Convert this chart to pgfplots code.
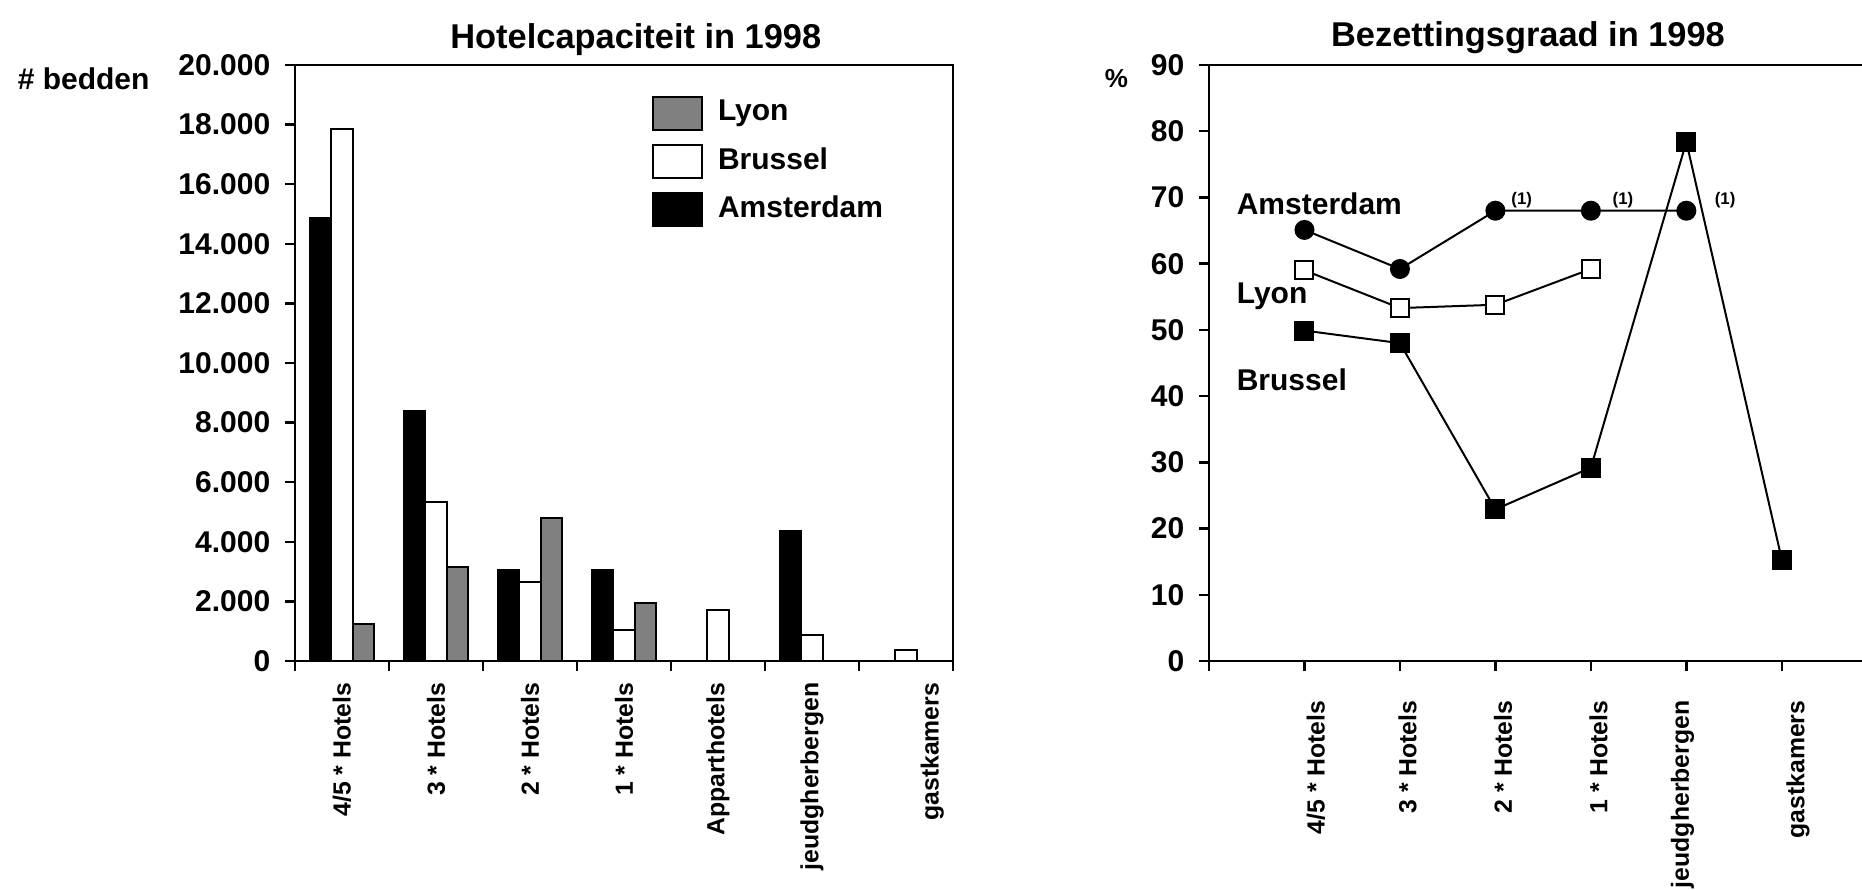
\documentclass[border=0pt]{standalone}
\usepackage{pgfplots}
\pgfplotsset{compat=1.18}
\usepackage{fontspec}
\setmainfont{Liberation Sans}
\definecolor{lyongray}{RGB}{128,128,128}
\newcommand{\tkfont}{\bfseries\fontsize{7.5}{9}\selectfont}
\newcommand{\catfont}{\bfseries\fontsize{6.2}{7.5}\selectfont}
\newcommand{\ttlfont}{\bfseries\fontsize{8.6}{10}\selectfont}
\begin{document}
\begin{tikzpicture}
\useasboundingbox (0,0) rectangle (465.5pt,222.25pt);
\pgfplotsset{
  common/.style={
    scale only axis, height=149pt,
    axis line style={-, line width=0.6pt},
    tick style={line width=0.6pt, black},
    tick align=outside,
    major tick length=2.5pt,
    minor tick length=2.5pt,
    ytick pos=left, xtick pos=left,
    major x tick style={draw=none},
    ticklabel style={font=\tkfont},
    /pgf/number format/assume math mode=true,
    yticklabel style={inner sep=0pt},
    yticklabel shift=3.5pt,
    xticklabel style={rotate=90, anchor=east, inner sep=0pt, font=\catfont},
    every axis title shift=0pt,
    title style={font=\ttlfont, anchor=base},
  }
}
% ---------------- left: bar chart ----------------
\begin{axis}[common,
  at={(73.75pt,57pt)}, anchor=south west, width=164.5pt,
  xmin=-0.5, xmax=6.5, ymin=0, ymax=20000,
  ytick={0,2000,...,20000}, scaled y ticks=false,
  /pgf/number format/1000 sep={.},
  xtick={0,1,2,3,4,5,6.28},
  xticklabels={4/5 * Hotels, 3 * Hotels, 2 * Hotels, 1 * Hotels, Apparthotels, jeudgherbergen, gastkamers},
  xticklabel shift=2.75pt,
  minor xtick={-0.5,0.5,1.5,2.5,3.5,4.5,5.5,6.5},
  ybar, bar width=0.23,
  legend image code/.code={\draw[#1, line width=0.5pt] (0pt,-4.125pt) rectangle (12.25pt,4.125pt);},
  legend style={draw=none, fill=none, at={(0.5426,0.948)}, anchor=north west,
    inner sep=0pt, outer sep=0pt, row sep=3.25pt, font=\tkfont,
    nodes={inner sep=0pt},
    /tikz/every odd column/.append style={column sep=3.75pt}},
  legend cell align=left, reverse legend,
  title={Hotelcapaciteit in 1998},
  title style={at={(0.518,1)}, yshift=4pt},
]
\addplot[fill=black, draw=black, line width=0.5pt, bar shift=-0.23]
  coordinates {(0,14850) (1,8390) (2,3040) (3,3040) (5,4370)};
\addlegendentry{Amsterdam}
\addplot[fill=white, draw=black, line width=0.5pt, bar shift=0]
  coordinates {(0,17860) (1,5320) (2,2640) (3,1050) (4,1700) (5,870) (6,380)};
\addlegendentry{Brussel}
\addplot[fill=lyongray, draw=black, line width=0.5pt, bar shift=0.23]
  coordinates {(0,1240) (1,3160) (2,4790) (3,1960)};
\addlegendentry{Lyon}
\end{axis}
% ---------------- right: line chart ----------------
\begin{axis}[common,
  at={(302.25pt,57pt)}, anchor=south west, width=163.25pt,
  axis lines*=left, clip=false,
  xmin=-1, xmax=5.84, ymin=0, ymax=90,
  ytick={0,10,...,90},
  xtick={0.12,1.08,2.08,3.08,3.96,5.17},
  xticklabels={4/5 * Hotels, 3 * Hotels, 2 * Hotels, 1 * Hotels, jeudgherbergen, gastkamers},
  xticklabel shift=7.2pt,
  minor xtick={-1,0,1,2,3,4,5},
  title={Bezettingsgraad in 1998},
  title style={at={(0.4885,1)}, yshift=4.75pt},
]
\draw[line width=0.6pt] (rel axis cs:0,1) -- (rel axis cs:1,1);
\addplot[black, line width=0.5pt, mark=*, mark size=2.25pt]
  coordinates {(0,65.1) (1,59.2) (2,68) (3,68) (4,68)};
\addplot[black, line width=0.5pt, mark=square*, mark size=2.25pt, mark options={fill=white}]
  coordinates {(0,59.0) (1,53.3) (2,53.8) (3,59.2)};
\addplot[black, line width=0.5pt, mark=square*, mark size=2.25pt]
  coordinates {(0,49.9) (1,48.0) (2,22.9) (3,29.2) (4,78.4) (5,15.3)};
\node[anchor=west, font=\tkfont, inner sep=0pt] at (axis cs:-0.717,69) {Amsterdam};
\node[anchor=west, font=\tkfont, inner sep=0pt] at (axis cs:-0.717,55.1) {Lyon};
\node[anchor=west, font=\tkfont, inner sep=0pt] at (axis cs:-0.717,42.4) {Brussel};
\node[anchor=west, font=\bfseries\fontsize{4.2}{5}\selectfont, inner sep=0pt] at (axis cs:2.16,69.6) {(1)};
\node[anchor=west, font=\bfseries\fontsize{4.2}{5}\selectfont, inner sep=0pt] at (axis cs:3.22,69.6) {(1)};
\node[anchor=west, font=\bfseries\fontsize{4.2}{5}\selectfont, inner sep=0pt] at (axis cs:4.29,69.6) {(1)};
\end{axis}
\node[anchor=west, font=\tkfont, inner sep=0pt] at (4.25pt,202.5pt) {\# bedden};
\node[anchor=west, font=\bfseries\fontsize{6.5}{8}\selectfont, inner sep=0pt] at (276pt,202.5pt) {\%};
\end{tikzpicture}
\end{document}
